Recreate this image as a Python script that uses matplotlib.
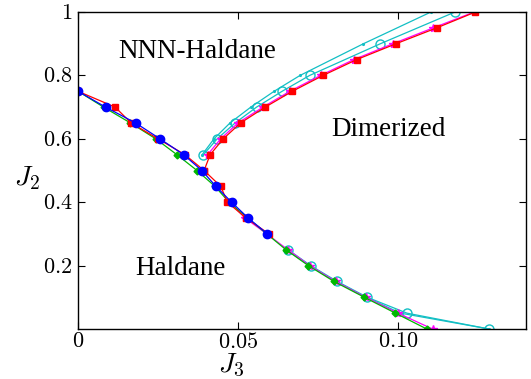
import numpy as np
import matplotlib
matplotlib.use('Agg')
import matplotlib.pyplot as plt

plt.rcParams['mathtext.fontset'] = 'cm'
plt.rcParams['font.family'] = 'Liberation Serif'

# J2 grid (steps of 0.05) and J3 transition points for each run
j2_red_low = [0.75, 0.70, 0.65, 0.60, 0.55, 0.50, 0.45, 0.40, 0.35, 0.30]
j3_red_low = [0.0, 0.0116, 0.0166, 0.0250, 0.0334, 0.0394, 0.0446, 0.0467, 0.0525, 0.0597]
j2_red_up = [0.50, 0.55, 0.60, 0.65, 0.70, 0.75, 0.80, 0.85, 0.90, 0.95, 1.00]
j3_red_up = [0.0394, 0.0413, 0.0454, 0.0508, 0.0585, 0.0670, 0.0766, 0.0871, 0.0994, 0.1121, 0.1242]

j2_mag_up = [0.55, 0.60, 0.65, 0.70, 0.75, 0.80, 0.85, 0.90, 0.95, 1.00]
j3_mag_up = [0.0405, 0.0446, 0.0500, 0.0578, 0.0662, 0.0758, 0.0862, 0.0984, 0.1110, 0.1238]
j2_mag_low = [0.40, 0.35, 0.30, 0.25, 0.20, 0.15, 0.10, 0.05, 0.0]
j3_mag_low = [0.0475, 0.0522, 0.0590, 0.0656, 0.0724, 0.0805, 0.0899, 0.1000, 0.1108]

j2_green = [0.75, 0.70, 0.65, 0.60, 0.55, 0.50, 0.45, 0.40, 0.35, 0.30, 0.25, 0.20, 0.15, 0.10, 0.05, 0.0]
j3_green = [0.0, 0.0080, 0.0164, 0.0243, 0.0309, 0.0372, 0.0428, 0.0472, 0.0530, 0.0590,
            0.0650, 0.0720, 0.0800, 0.0895, 0.0992, 0.1090]

j2_blue = [0.75, 0.70, 0.65, 0.60, 0.55, 0.50, 0.45, 0.40, 0.35, 0.30]
j3_blue = [0.0, 0.0086, 0.0180, 0.0256, 0.0330, 0.0387, 0.0431, 0.0480, 0.0532, 0.0592]

j2_cyan_up = [0.55, 0.60, 0.65, 0.70, 0.75, 0.80, 0.90, 1.00]
j3_circ_up = [0.0392, 0.0435, 0.0491, 0.0558, 0.0638, 0.0724, 0.0945, 0.1178]
j3_dot_up = [0.0388, 0.0425, 0.0475, 0.0540, 0.0613, 0.0694, 0.0892, 0.1103]
j2_cyan_low = [0.25, 0.20, 0.15, 0.10, 0.05, 0.0]
j3_circ_low = [0.0657, 0.0727, 0.0810, 0.0904, 0.1028, 0.1285]
j3_dot_low = [0.0652, 0.0722, 0.0806, 0.0900, 0.1008, 0.1285]

xticks = [0, 0.05, 0.10]
xticklabels = ['$0$', '$0.05$', '$0.10$']
yticks = [0.2, 0.4, 0.6, 0.8, 1.0]
yticklabels = ['$0.2$', '$0.4$', '$0.6$', '$0.8$', '$1$']

cyan = '#12bfc4'
green = '#00b800'

fig = plt.figure(figsize=(5.31, 3.79), dpi=100)
ax = fig.add_axes([0.1469, 0.1319, 0.8437, 0.8364])

lw = 0.9
ax.plot(j3_dot_up, j2_cyan_up, '.-', color=cyan, lw=lw, ms=2.5)
ax.plot(j3_dot_low, j2_cyan_low, '.-', color=cyan, lw=lw, ms=2.5)
ax.plot(j3_circ_up, j2_cyan_up, 'o-', color=cyan, lw=lw, ms=6.5, mfc='none', mew=1)
ax.plot(j3_circ_low, j2_cyan_low, 'o-', color=cyan, lw=lw, ms=6.5, mfc='none', mew=1)
ax.plot(j3_mag_up, j2_mag_up, '*-', color='#ff00ff', lw=lw, ms=6)
ax.plot(j3_mag_low, j2_mag_low, '*-', color='#ff00ff', lw=lw, ms=6)
ax.plot(j3_green, j2_green, 'D-', color=green, lw=lw, ms=3.5)
ax.plot(j3_red_low, j2_red_low, 's-', color='#ff0000', lw=lw, ms=4.8)
ax.plot(j3_red_up, j2_red_up, 's-', color='#ff0000', lw=lw, ms=4.8)
ax.plot(j3_blue, j2_blue, 'o-', color='#0000ff', lw=lw, ms=6)

ax.set_xlim(0, 0.14)
ax.set_ylim(0, 1)
ax.set_xticks(xticks)
ax.set_xticklabels(xticklabels)
ax.set_yticks(yticks)
ax.set_yticklabels(yticklabels)
ax.tick_params(direction='in', length=5, width=0.8, top=True, right=True,
               labelsize=16, pad=4)
ax.tick_params(axis='x', pad=3)
for s in ax.spines.values():
    s.set_linewidth(1.0)

ax.set_xlabel('$J_3$', fontsize=20, va='top')
ax.xaxis.set_label_coords(0.341, -0.072)
ax.set_ylabel('$J_2$', fontsize=20, rotation=0, va='center', ha='center')
ax.yaxis.set_label_coords(-0.114, 0.475)

ax.text(0.0372, 0.874, 'NNN-Haldane', fontsize=19.5, ha='center', va='center')
ax.text(0.0969, 0.628, 'Dimerized', fontsize=19.5, ha='center', va='center')
ax.text(0.0319, 0.192, 'Haldane', fontsize=19.5, ha='center', va='center')

fig.savefig('out.png', dpi=100)
